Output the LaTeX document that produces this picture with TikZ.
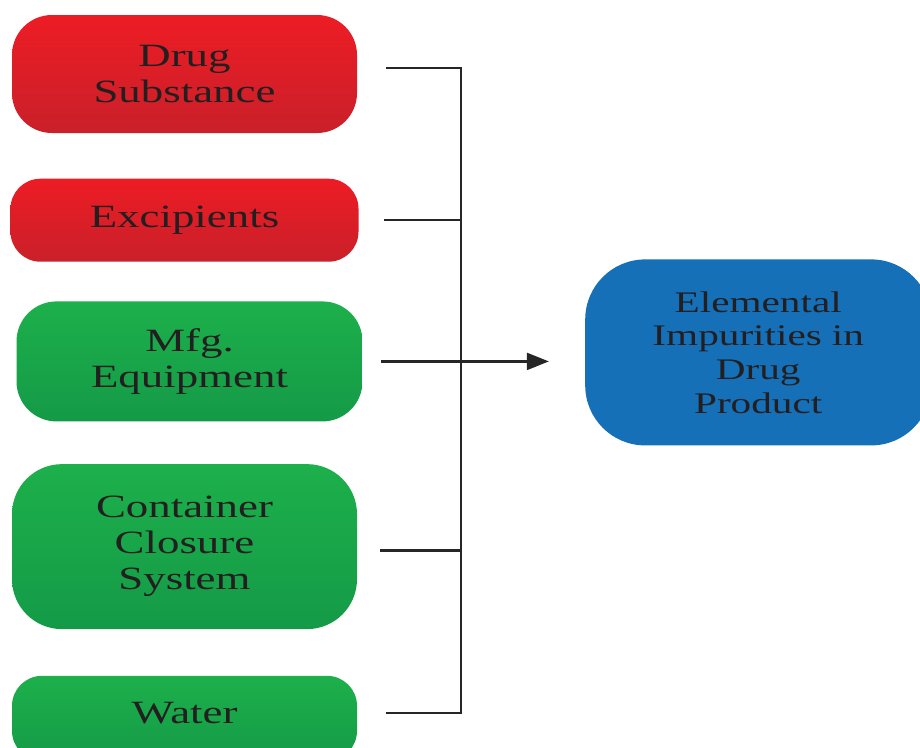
\documentclass[tikz,border=0pt]{standalone}
\usepackage{fontspec}
\setmainfont[FakeStretch=1.38]{Liberation Serif}
\usetikzlibrary{positioning,arrows.meta}

\definecolor{redtop}{HTML}{ED1C24}
\definecolor{redbot}{HTML}{C9202A}
\definecolor{greentop}{HTML}{1DB04B}
\definecolor{greenbot}{HTML}{149A47}
\definecolor{blueprod}{HTML}{1570B8}
\definecolor{inktext}{HTML}{231F20}

\begin{document}
\begin{tikzpicture}[
    source/.style={inner sep=0pt, align=center, text=inktext,
      font=\fontsize{18.5}{20.5}\selectfont, text width=6.6cm},
    redsrc/.style={source, top color=redtop, bottom color=redbot},
    greensrc/.style={source, top color=greentop, bottom color=greenbot},
    feed/.style={line width=1.3pt, black!85}
  ]
  \useasboundingbox (0,0) rectangle (18.4,-14.94);

  \node [redsrc, minimum width=6.9cm, minimum height=2.36cm, rounded corners=0.8cm]
    (ds) at (3.69,-1.48) {Drug\\Substance};
  \node [redsrc, below=0.9cm of ds, minimum width=6.96cm, minimum height=1.66cm,
    rounded corners=0.6cm] (ex) {Excipients};
  \node [greensrc, below=0.78cm of ex, xshift=0.1cm, minimum width=6.92cm,
    minimum height=2.4cm, rounded corners=0.8cm] (mfg) {Mfg.\\Equipment};
  \node [greensrc, below=0.84cm of mfg, xshift=-0.1cm, minimum width=6.9cm,
    minimum height=3.3cm, rounded corners=1cm] (ccs) {Container\\Closure\\System};
  \node [greensrc, below=0.92cm of ccs, minimum width=6.9cm, minimum height=1.7cm,
    text depth=0.22cm, rounded corners=0.6cm] (wat) {Water};

  \node [source, fill=blueprod, right=4.44cm of mfg, yshift=0.18cm,
    minimum width=6.92cm, minimum height=3.72cm, rounded corners=1.2cm,
    text width=6.4cm, font=\fontsize{17}{19.2}\selectfont] (prod)
    {Elemental\\Impurities in\\Drug\\Product};

  \coordinate (bus) at (9.22,0);
  \draw [feed] ([xshift=0.58cm,yshift=0.12cm]ds.east) -- ([yshift=0.12cm]ds.east -| bus)
    -- ([yshift=0.1cm]wat.east -| bus) -- ([xshift=0.58cm,yshift=0.1cm]wat.east);
  \draw [feed] ([xshift=0.5cm]ex.east) -- (ex.east -| bus);
  \draw [feed] ([xshift=0.46cm,yshift=-0.08cm]ccs.east) -- ([yshift=-0.08cm]ccs.east -| bus);
  \draw [feed, -{Triangle[length=0.44cm,width=0.34cm]}, shorten >=0.72cm]
    ([xshift=0.36cm]mfg.east) -- (mfg.east -| prod.west);
\end{tikzpicture}
\end{document}
